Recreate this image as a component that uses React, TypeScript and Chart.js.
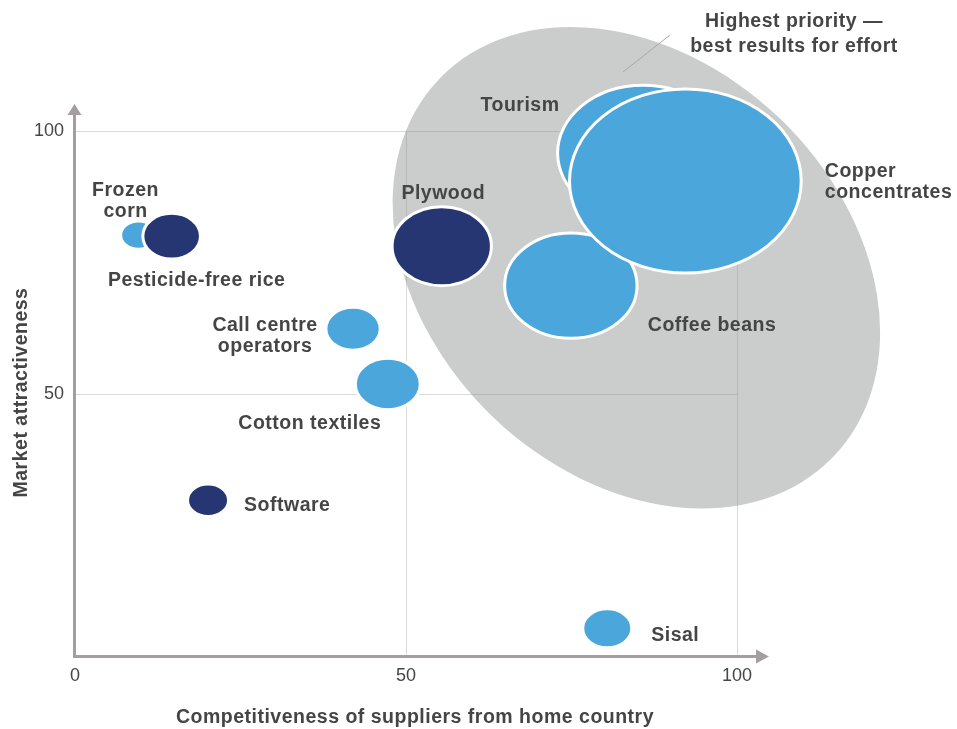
import React, { useEffect, useRef } from 'react';
import { Chart, registerables } from 'chart.js';

Chart.register(...registerables);

// ---- Data ----
const products = [
  'Frozen corn',
  'Pesticide-free rice',
  'Software',
  'Call centre operators',
  'Cotton textiles',
  'Plywood',
  'Sisal',
  'Coffee beans',
  'Tourism',
  'Copper concentrates',
];
const labelLines = [
  ['Frozen', 'corn'],
  ['Pesticide-free rice'],
  ['Software'],
  ['Call centre', 'operators'],
  ['Cotton textiles'],
  ['Plywood'],
  ['Sisal'],
  ['Coffee beans'],
  ['Tourism'],
  ['Copper', 'concentrates'],
];
const competitiveness = [9.6, 14.6, 20.1, 42.0, 47.25, 55.4, 80.4, 74.9, 85.8, 92.2];
const attractiveness = [80.2, 80.0, 29.8, 62.4, 51.9, 78.1, 5.45, 70.6, 95.8, 90.5];
const bubbleSize = [2.7, 4.35, 3.1, 4.1, 4.9, 7.5, 3.7, 10.0, 12.9, 17.5];
const supplierGroup = ['light', 'dark', 'dark', 'light', 'light', 'dark', 'light', 'light', 'light', 'light'];

const xTickValues = [0, 50, 100];
const yTickValues = [50, 100];

const xAxisTitle = 'Competitiveness of suppliers from home country';
const yAxisTitle = 'Market attractiveness';
const highlightText = ['Highest priority —', 'best results for effort'];
const highlightCenter = { x: 84.8, y: 74.0 };

// ---- Layout / style (not data) ----
const labelPlacement = [
  { dx: -13, dy: -45, align: 'center' },
  { dx: 25, dy: 44, align: 'center' },
  { dx: 36, dy: 5, align: 'left' },
  { dx: -88, dy: -3, align: 'center' },
  { dx: -78, dy: 40, align: 'center' },
  { dx: 1.5, dy: -53, align: 'center' },
  { dx: 44, dy: 7, align: 'left' },
  { dx: 77, dy: 39.5, align: 'left' },
  { dx: -123, dy: -47, align: 'center' },
  { dx: 139.5, dy: -9, align: 'left' },
];

const FONT = '"Liberation Sans", Arial, Helvetica, sans-serif';
const LABEL_FONT = `bold 19.5px ${FONT}`;
const LABEL_SPACING = '0.5px';
const LIGHT = '#4ba6db';
const DARK = '#253673';
const TEXT = '#454545';
const AXIS = '#a39fa0';
const GRID = 'rgba(150,146,148,0.35)';
const HIGHLIGHT = '#cacdcb';

const unitPx = (scale: any) => Math.abs(scale.getPixelForValue(1) - scale.getPixelForValue(0));

const setLabelFont = (ctx: any) => {
  ctx.font = LABEL_FONT;
  ctx.fillStyle = TEXT;
  ctx.textBaseline = 'middle';
  try {
    ctx.letterSpacing = LABEL_SPACING;
  } catch (e) {
    /* ignore */
  }
};

const ellipsePlugin = {
  id: 'ellipseBubbles',
  beforeDraw(chart: any) {
    const { ctx, scales } = chart;
    const cx = scales.x.getPixelForValue(highlightCenter.x);
    const cy = scales.y.getPixelForValue(highlightCenter.y);
    ctx.save();
    ctx.fillStyle = HIGHLIGHT;
    ctx.beginPath();
    ctx.ellipse(cx, cy, 273, 207, (43.7 * Math.PI) / 180, 0, Math.PI * 2);
    ctx.fill();
    // leader line for annotation
    ctx.strokeStyle = '#a8a8a8';
    ctx.lineWidth = 1;
    ctx.beginPath();
    ctx.moveTo(623, 72);
    ctx.lineTo(670, 35);
    ctx.stroke();
    ctx.restore();
  },
  afterDatasetsDraw(chart: any) {
    const { ctx, scales } = chart;
    const ux = unitPx(scales.x);
    const uy = unitPx(scales.y);
    const meta = chart.getDatasetMeta(0);
    ctx.save();
    meta.data.forEach((el: any, i: number) => {
      const r = bubbleSize[i];
      ctx.beginPath();
      ctx.ellipse(el.x, el.y, r * ux, r * uy, 0, 0, Math.PI * 2);
      ctx.fillStyle = supplierGroup[i] === 'dark' ? DARK : LIGHT;
      ctx.fill();
      ctx.lineWidth = 3;
      ctx.strokeStyle = '#ffffff';
      ctx.stroke();
    });
    // labels
    setLabelFont(ctx);
    meta.data.forEach((el: any, i: number) => {
      const p = labelPlacement[i];
      ctx.textAlign = p.align;
      labelLines[i].forEach((line, j) => {
        ctx.fillText(line, el.x + p.dx, el.y + p.dy + j * 21);
      });
    });
    ctx.restore();
  },
  afterDraw(chart: any) {
    const { ctx, chartArea } = chart;
    const left = chartArea.left - 0.5;
    const bottom = chartArea.bottom - 0.5;
    ctx.save();
    ctx.strokeStyle = AXIS;
    ctx.fillStyle = AXIS;
    ctx.lineWidth = 3;
    // y axis
    ctx.beginPath();
    ctx.moveTo(left, bottom + 1.5);
    ctx.lineTo(left, 114);
    ctx.stroke();
    ctx.beginPath();
    ctx.moveTo(left, 104);
    ctx.lineTo(left - 7, 115);
    ctx.lineTo(left + 7, 115);
    ctx.closePath();
    ctx.fill();
    // x axis
    ctx.beginPath();
    ctx.moveTo(left - 1.5, bottom);
    ctx.lineTo(757, bottom);
    ctx.stroke();
    ctx.beginPath();
    ctx.moveTo(769, bottom);
    ctx.lineTo(756, bottom - 7);
    ctx.lineTo(756, bottom + 7);
    ctx.closePath();
    ctx.fill();

    // axis titles
    setLabelFont(ctx);
    ctx.textAlign = 'center';
    ctx.fillText(xAxisTitle, 415, 718);
    ctx.save();
    ctx.translate(22, 392.5);
    ctx.rotate(-Math.PI / 2);
    ctx.fillText(yAxisTitle, 0, 0);
    ctx.restore();

    // annotation
    highlightText.forEach((line, j) => {
      ctx.fillText(line, 794, 21.7 + j * 25);
    });
    ctx.restore();
  },
};

export default function App() {
  const canvasRef = useRef<HTMLCanvasElement | null>(null);

  useEffect(() => {
    if (!canvasRef.current) return;
    const chart = new Chart(canvasRef.current, {
      type: 'bubble',
      data: {
        datasets: [
          {
            label: 'Products',
            data: products.map((_, i) => ({ x: competitiveness[i], y: attractiveness[i], r: 0 })),
            backgroundColor: 'rgba(0,0,0,0)',
            borderColor: 'rgba(0,0,0,0)',
            borderWidth: 0,
          },
        ],
      },
      options: {
        animation: false,
        responsive: true,
        maintainAspectRatio: false,
        layout: { padding: { top: 131, right: 220, left: 0, bottom: 0 } },
        plugins: {
          legend: { display: false },
          tooltip: { enabled: false },
        },
        scales: {
          x: {
            type: 'linear',
            min: 0,
            max: 100,
            afterBuildTicks: (s: any) => {
              s.ticks = xTickValues.map((v) => ({ value: v }));
            },
            afterFit: (s: any) => {
              s.height = 72;
            },
            grid: {
              color: (c: any) => (c.tick && c.tick.value === 0 ? 'rgba(0,0,0,0)' : GRID),
              lineWidth: 1,
              drawTicks: false,
            },
            border: { display: false },
            ticks: {
              color: TEXT,
              font: { family: FONT, size: 18 },
              padding: 8,
              maxRotation: 0,
              autoSkip: false,
            },
          },
          y: {
            type: 'linear',
            min: 0,
            max: 100,
            afterBuildTicks: (s: any) => {
              s.ticks = yTickValues.map((v) => ({ value: v }));
            },
            afterFit: (s: any) => {
              s.width = 75;
            },
            grid: {
              color: GRID,
              lineWidth: 1,
              drawTicks: false,
            },
            border: { display: false },
            ticks: {
              color: TEXT,
              font: { family: FONT, size: 18 },
              padding: 11,
              autoSkip: false,
            },
          },
        },
      },
      plugins: [ellipsePlugin],
    });
    return () => chart.destroy();
  }, []);

  return (
    <div style={{ position: 'fixed', left: 0, top: 0, width: 957, height: 729, background: '#ffffff' }}>
      <canvas ref={canvasRef} />
    </div>
  );
}
